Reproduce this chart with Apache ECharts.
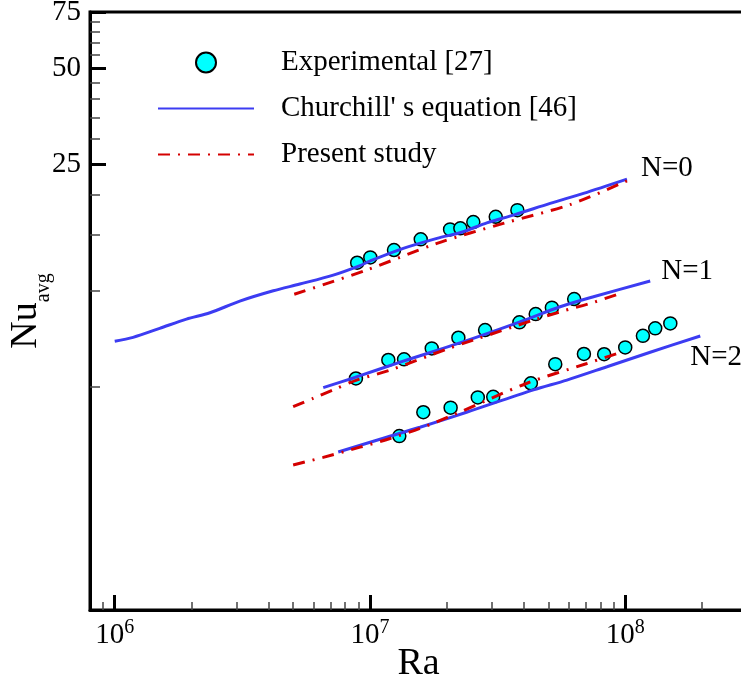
<!DOCTYPE html>
<html><head><meta charset="utf-8">
<script src="https://cdn.jsdelivr.net/npm/echarts@6/dist/echarts.min.js"></script>
<style>html,body{margin:0;padding:0;background:#fff}#c{width:741px;height:684px}</style>
</head><body><div id="c"></div>
<script>
const FONT = '"Liberation Serif", "Times New Roman", serif';

// Axis ticks
const xMajorTicks = [1e6, 1e7, 1e8];
const xMinorTicks = [9e5, 2e6, 3e6, 4e6, 5e6, 6e6, 7e6, 8e6, 9e6, 2e7, 3e7, 4e7, 5e7, 6e7, 7e7, 8e7, 9e7, 2e8];
const yMajorTicks = [25, 50, 75];
const yMinorTicks = [5, 10, 15, 20, 30, 35, 40, 45, 55, 60, 65, 70];

const seriesNames = ['Experimental [27]', "Churchill' s equation [46]", 'Present study'];
const curveLabels = ['N=0', 'N=1', 'N=2'];

// Experimental [27]  [Ra, Nu]
const expN0 = [[8.91e6,12.27],[1.003e7,12.75],[1.242e7,13.45],[1.581e7,14.53],[2.06e7,15.61],[2.26e7,15.73],[2.54e7,16.46],[3.11e7,17.10],[3.78e7,17.94]];
const expN1 = [[8.81e6,5.32],[1.18e7,6.08],[1.36e7,6.11],[1.746e7,6.61],[2.22e7,7.14],[2.825e7,7.55],[3.85e7,7.98],[4.46e7,8.47],[5.16e7,8.87],[6.31e7,9.44]];
const expN2 = [[1.303e7,3.51],[1.618e7,4.17],[2.07e7,4.31],[2.645e7,4.64],[3.04e7,4.66],[4.27e7,5.14],[5.32e7,5.90],[6.89e7,6.35],[8.27e7,6.34],[1.0e8,6.66],[1.173e8,7.24],[1.311e8,7.64],[1.502e8,7.92]];

// Churchill's equation [46]
const chN0 = [[1.0e6,6.96],[1.18e6,7.16],[1.5e6,7.64],[1.91e6,8.17],[2.36e6,8.55],[3.09e6,9.30],[4.18e6,10.02],[5.31e6,10.52],[7.18e6,11.22],[9.14e6,12.02],[1.0e7,12.42],[1.35e7,13.61],[1.83e7,14.63],[2.32e7,15.35],[2.87e7,16.37],[3.65e7,17.31],[5.08e7,18.83],[6.86e7,20.25],[1.016e8,22.45]];
const chN1 = [[6.56e6,4.98],[8.73e6,5.36],[1.35e7,6.03],[2.25e7,6.88],[3.87e7,8.01],[5.56e7,8.93],[7.51e7,9.60],[1.253e8,10.75]];
const chN2 = [[7.51e6,3.13],[1.095e7,3.43],[1.57e7,3.74],[2.39e7,4.17],[4.37e7,4.90],[5.91e7,5.26],[8.48e7,5.79],[1.253e8,6.43],[1.968e8,7.23]];

// Present study
const psN0 = [[5.05e6,9.77],[9.70e6,11.64],[1.83e7,14.11],[3.33e7,16.30],[6.08e7,18.67],[1.016e8,22.17]];
const psN1 = [[5.0e6,4.34],[5.99e6,4.61],[7.18e6,4.90],[8.87e6,5.26],[1.198e7,5.65],[2.0e7,6.58],[2.54e7,7.02],[4.37e7,8.11],[5.56e7,8.61],[7.29e7,9.15],[9.85e7,9.91]];
const psN2 = [[5.0e6,2.85],[6.56e6,3.01],[9.14e6,3.24],[1.198e7,3.45],[1.57e7,3.71],[2.12e7,4.09],[4.12e7,5.14],[7.08e7,5.93],[9.85e7,6.47]];

const expData = [expN0, expN1, expN2];
const chData = [chN0, chN1, chN2];
const psData = [psN0, psN1, psN2];
const endOffsets = [[6, -11], [3, -10], [-18, 21]];

const BLUE = '#3c3cf2';
const RED = '#d40000';
const CYAN = '#00ffff';

const series = [];
expData.forEach(d => series.push({
  type: 'scatter', name: seriesNames[0], data: d, symbol: 'circle', symbolSize: 13,
  itemStyle: { color: CYAN, borderColor: '#000', borderWidth: 1.5, opacity: 1 }, z: 2
}));
chData.forEach((d, i) => series.push({
  type: 'line', name: seriesNames[1], data: d, symbol: 'none', smooth: 0.3,
  lineStyle: { color: BLUE, width: 3 }, itemStyle: { color: BLUE }, z: 3,
  endLabel: { show: true, formatter: curveLabels[i], fontFamily: FONT, fontSize: 29, color: '#000', offset: endOffsets[i] }
}));
psData.forEach(d => series.push({
  type: 'line', name: seriesNames[2], data: d, symbol: 'none', smooth: 0.3,
  lineStyle: { color: RED, width: 3, type: [12, 8, 2, 8] }, itemStyle: { color: RED }, z: 4
}));

const chart = echarts.init(document.getElementById('c'), null, { renderer: 'canvas' });
chart.setOption({
  animation: false,
  backgroundColor: '#fff',
  grid: { left: 90, right: -6, top: 12, bottom: 74, show: true, borderColor: '#000', borderWidth: 3, containLabel: false, outerBoundsMode: 'none' },
  legend: {
    data: [
      { name: seriesNames[0] },
      { name: seriesNames[1], itemStyle: { color: 'rgba(0,0,0,0)', borderWidth: 0, opacity: 0 } },
      { name: seriesNames[2], itemStyle: { color: 'rgba(0,0,0,0)', borderWidth: 0, opacity: 0 } }
    ],
    orient: 'vertical', left: 157, top: 48, padding: 0,
    itemWidth: 96, itemHeight: 20, itemGap: 17,
    textStyle: { fontFamily: FONT, fontSize: 29, color: '#000', padding: [0, 0, 0, 22] }
  },
  xAxis: [{
    type: 'log', logBase: 10, min: 8e5, max: 3e8,
    axisLine: { show: true, lineStyle: { color: '#000', width: 3 } },
    axisTick: { show: true, inside: true, length: 15, customValues: xMajorTicks, lineStyle: { color: '#000', width: 3 } },
    axisLabel: {
      customValues: xMajorTicks, margin: 8,
      formatter: v => '{b|10}{s|' + Math.round(Math.log10(v)) + '}',
      rich: {
        b: { fontFamily: FONT, fontSize: 29, color: '#000', lineHeight: 32, verticalAlign: 'bottom' },
        s: { fontFamily: FONT, fontSize: 20, color: '#000', lineHeight: 20, verticalAlign: 'top' }
      }
    },
    splitLine: { show: false },
    name: 'Ra', nameLocation: 'middle', nameGap: 35, nameMoveOverlap: false,
    nameTextStyle: { fontFamily: FONT, fontSize: 38, color: '#000' }
  }, {
    type: 'log', logBase: 10, min: 8e5, max: 3e8, position: 'bottom',
    axisLine: { show: false },
    axisTick: { show: true, inside: true, length: 8, customValues: xMinorTicks, lineStyle: { color: '#444', width: 1.5 } },
    axisLabel: { show: false }, splitLine: { show: false }
  }],
  yAxis: [{
    type: 'log', logBase: 10, min: 1, max: 75,
    axisLine: { show: true, lineStyle: { color: '#000', width: 3 } },
    axisTick: { show: true, inside: true, length: 16, customValues: yMajorTicks, lineStyle: { color: '#000', width: 3 } },
    axisLabel: { customValues: yMajorTicks, margin: 9, fontFamily: FONT, fontSize: 29, color: '#000' },
    splitLine: { show: false },
    name: '{n|Nu}{s|avg}', nameLocation: 'middle', nameRotate: 90, nameGap: 36, nameMoveOverlap: false,
    nameTextStyle: {
      rich: {
        n: { fontFamily: FONT, fontSize: 38, color: '#000', lineHeight: 38, verticalAlign: 'top' },
        s: { fontFamily: FONT, fontSize: 20, color: '#000', lineHeight: 47, verticalAlign: 'bottom' }
      }
    }
  }, {
    type: 'log', logBase: 10, min: 1, max: 75, position: 'left',
    axisLine: { show: false },
    axisTick: { show: true, inside: true, length: 10, customValues: yMinorTicks, lineStyle: { color: '#444', width: 1.5 } },
    axisLabel: { show: false }, splitLine: { show: false }
  }],
  series: series
});
</script>
</body></html>
